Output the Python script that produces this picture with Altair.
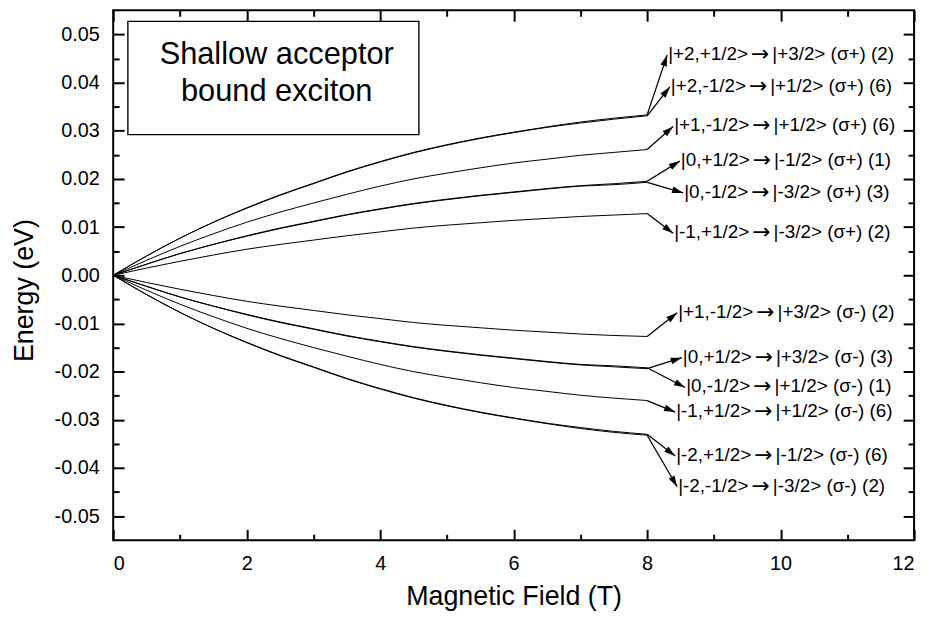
import math
import altair as alt
import pandas as pd

# ---------------- data ----------------
field_T = [0, 0.5, 1, 1.5, 2, 2.5, 3, 3.5, 4, 4.5, 5, 5.5, 6, 6.5, 7, 7.5, 8]

# sigma+ branch (upper)
e_p2_p = [0, 0.0040, 0.0077, 0.0110, 0.0140, 0.0167, 0.0191, 0.0215, 0.0236, 0.0255, 0.0271, 0.0285, 0.0297, 0.0308, 0.0318, 0.0326, 0.0333]
e_p2_m = [0, 0.0040, 0.0077, 0.0110, 0.0139, 0.0166, 0.0190, 0.0214, 0.0235, 0.0254, 0.0270, 0.0284, 0.0296, 0.0307, 0.0316, 0.0324, 0.0331]
e_p1_m = [0, 0.0031, 0.0060, 0.0086, 0.0110, 0.0131, 0.0150, 0.0168, 0.0185, 0.0200, 0.0212, 0.0223, 0.0233, 0.0241, 0.0249, 0.0255, 0.0261]
e_00_p = [0, 0.0023, 0.0045, 0.0064, 0.0082, 0.0098, 0.0112, 0.0126, 0.0138, 0.0149, 0.0158, 0.0166, 0.0173, 0.0180, 0.0186, 0.0190, 0.0195]
e_00_m = [0, 0.0023, 0.0045, 0.0064, 0.0081, 0.0097, 0.0111, 0.0125, 0.0137, 0.0148, 0.0157, 0.0165, 0.0172, 0.0179, 0.0185, 0.0188, 0.0193]
e_m1_p = [0, 0.0015, 0.0029, 0.0042, 0.0054, 0.0064, 0.0073, 0.0082, 0.0090, 0.0098, 0.0104, 0.0109, 0.0114, 0.0118, 0.0122, 0.0125, 0.0128]
# sigma- branch (lower)
f_p1_m = [0, -0.0015, -0.0029, -0.0042, -0.0054, -0.0064, -0.0073, -0.0082, -0.0090, -0.0098, -0.0104, -0.0109, -0.0114, -0.0118, -0.0122, -0.0125, -0.0127]
f_00_p = [0, -0.0023, -0.0045, -0.0064, -0.0082, -0.0098, -0.0112, -0.0126, -0.0138, -0.0149, -0.0158, -0.0166, -0.0173, -0.0180, -0.0186, -0.0190, -0.0194]
f_00_m = [0, -0.0023, -0.0045, -0.0064, -0.0081, -0.0097, -0.0111, -0.0125, -0.0137, -0.0148, -0.0157, -0.0165, -0.0172, -0.0179, -0.0185, -0.0188, -0.0192]
f_m1_p = [0, -0.0031, -0.0060, -0.0086, -0.0110, -0.0131, -0.0150, -0.0168, -0.0185, -0.0200, -0.0212, -0.0223, -0.0233, -0.0241, -0.0249, -0.0255, -0.0260]
f_m2_p = [0, -0.0040, -0.0077, -0.0110, -0.0139, -0.0166, -0.0190, -0.0214, -0.0235, -0.0254, -0.0270, -0.0284, -0.0296, -0.0307, -0.0316, -0.0324, -0.0330]
f_m2_m = [0, -0.0040, -0.0077, -0.0110, -0.0140, -0.0167, -0.0191, -0.0215, -0.0236, -0.0255, -0.0271, -0.0285, -0.0297, -0.0308, -0.0318, -0.0326, -0.0332]

series_names = ["p2p", "p2m", "p1m", "00p", "00m", "m1p",
                "n_p1m", "n_00p", "n_00m", "n_m1p", "n_m2p", "n_m2m"]
series_vals = [e_p2_p, e_p2_m, e_p1_m, e_00_p, e_00_m, e_m1_p,
               f_p1_m, f_00_p, f_00_m, f_m1_p, f_m2_p, f_m2_m]

# transition labels: initial state | arrow | final state (polarisation) (strength)
label_from = ["|+2,+1/2>", "|+2,-1/2>", "|+1,-1/2>", "|0,+1/2>", "|0,-1/2>", "|-1,+1/2>",
              "|+1,-1/2>", "|0,+1/2>", "|0,-1/2>", "|-1,+1/2>", "|-2,+1/2>", "|-2,-1/2>"]
label_to = ["|+3/2> (\u03c3+) (2)", "|+1/2> (\u03c3+) (6)", "|+1/2> (\u03c3+) (6)",
            "|-1/2> (\u03c3+) (1)", "|-3/2> (\u03c3+) (3)", "|-3/2> (\u03c3+) (2)",
            "|+3/2> (\u03c3-) (2)", "|+3/2> (\u03c3-) (3)", "|+1/2> (\u03c3-) (1)",
            "|+1/2> (\u03c3-) (6)", "|-1/2> (\u03c3-) (6)", "|-3/2> (\u03c3-) (2)"]
arrow_glyph = "\u2192"
# arrow tip (label anchor) positions in data units
tip_field = [8.30, 8.34, 8.39, 8.49, 8.54, 8.39, 8.45, 8.52, 8.57, 8.42, 8.42, 8.45]
tip_energy = [0.0457, 0.0391, 0.0309, 0.0237, 0.0171, 0.0087,
              -0.0078, -0.0171, -0.0233, -0.0284, -0.0375, -0.0439]

box_title = ["Shallow acceptor", "bound exciton"]
box_title_field = [2.45, 2.45]
box_title_energy = [0.0439, 0.0361]
box_field = [0.22, 4.58]
box_energy = [0.0292, 0.0527]

x_major = [0, 2, 4, 6, 8, 10, 12]
x_minor = [1, 3, 5, 7, 9, 11]
y_major = [-0.05, -0.04, -0.03, -0.02, -0.01, 0.0, 0.01, 0.02, 0.03, 0.04, 0.05]
y_minor = [-0.045, -0.035, -0.025, -0.015, -0.005, 0.005, 0.015, 0.025, 0.035, 0.045]

# ---------------- layout ----------------
W, H = 807, 534
XDOM = [0, 12]
YDOM = [-0.055, 0.055]
FONT = "Liberation Sans"
LAB_FS = 19
ARROW_FS = 22

# Arial / Liberation Sans advance widths (em) for the label characters
ADV = {"|": 0.26, "+": 0.584, "-": 0.333, ",": 0.278, "/": 0.278, ">": 0.584,
       "(": 0.333, ")": 0.333, " ": 0.278, "\u03c3": 0.617}


def text_w(s, fs):
    return sum(ADV.get(c, 0.556) for c in s) * fs


rows = []
for name, vals in zip(series_names, series_vals):
    for x, v in zip(field_T, vals):
        rows.append({"field": x, "energy": v, "series": name})
curves = pd.DataFrame(rows)

px_x = W / (XDOM[1] - XDOM[0])
px_y = H / (YDOM[1] - YDOM[0])
arr_rows = []
for vals, la, lb, tx, ty in zip(series_vals, label_from, label_to, tip_field, tip_energy):
    sx, sy = field_T[-1], vals[-1]
    ang = math.degrees(math.atan2(-(ty - sy) * px_y, (tx - sx) * px_x)) % 360
    wa = text_w(la, LAB_FS)
    x_a = tx + 1.0 / px_x
    x_arr = tx + (1.0 + wa + 3.0) / px_x
    x_b = tx + (1.0 + wa + 3.0 + 0.838 * ARROW_FS + 3.0) / px_x
    arr_rows.append({"sx": sx, "sy": sy, "tx": tx, "ty": ty, "ang": ang,
                     "xa": x_a, "xarr": x_arr, "xb": x_b,
                     "la": la, "lb": lb, "arrow": arrow_glyph})
arrows = pd.DataFrame(arr_rows)

box_df = pd.DataFrame({"x1": [box_field[0]], "x2": [box_field[1]],
                       "y1": [box_energy[0]], "y2": [box_energy[1]]})
box_txt = pd.DataFrame({"x": box_title_field, "y": box_title_energy, "t": box_title})

xs = alt.Scale(domain=XDOM, nice=False, zero=False)
ys = alt.Scale(domain=YDOM, nice=False, zero=False)

x_lab_axis = alt.Axis(orient="bottom", values=x_major, ticks=False, tickSize=0, domain=False,
                      labelPadding=13, labelFontSize=20, labelFont=FONT, labelColor="black",
                      title="Magnetic Field (T)", titleFontSize=27, titleFont=FONT,
                      titleFontWeight="normal", titleColor="black", titleY=57,
                      titleBaseline="middle", grid=False)
y_lab_axis = alt.Axis(orient="left", values=y_major, ticks=False, tickSize=0, domain=False,
                      labelPadding=14, labelFontSize=20, labelFont=FONT, labelColor="black",
                      labelExpr="datum.value < -1e-9 ? '-' + format(-datum.value, '.2f') : format(abs(datum.value), '.2f')",
                      title="Energy (eV)", titleFontSize=27, titleFont=FONT,
                      titleFontWeight="normal", titleColor="black", titleAngle=270,
                      titleX=-89, titleY=282, titleBaseline="middle", grid=False)

lines = alt.Chart(curves).mark_line(color="black", strokeWidth=1, interpolate="monotone").encode(
    x=alt.X("field:Q", scale=xs, axis=x_lab_axis),
    y=alt.Y("energy:Q", scale=ys, axis=y_lab_axis),
    detail="series:N",
)


def tick_axis(orient, vals, size):
    off = -H if orient in ("top", "bottom") else -W
    return alt.Axis(orient=orient, offset=off, values=vals, labels=False, domain=False,
                    ticks=True, tickSize=size, tickWidth=2, tickColor="black",
                    title=None, grid=False)


def tick_layer(xo, yo, xv, yv, size):
    return alt.Chart(curves).mark_point(opacity=0).encode(
        x=alt.X("field:Q", scale=xs, axis=tick_axis(xo, xv, size)),
        y=alt.Y("energy:Q", scale=ys, axis=tick_axis(yo, yv, size)),
    )


t1 = tick_layer("top", "right", x_major, y_major, 11)
t2 = tick_layer("bottom", "left", x_major, y_major, 11)
t3 = tick_layer("top", "right", x_minor, y_minor, 6)
t4 = tick_layer("bottom", "left", x_minor, y_minor, 6)

box = alt.Chart(box_df).mark_rect(fill="white", stroke="black", strokeWidth=1.4).encode(
    x=alt.X("x1:Q", scale=xs, axis=None), x2="x2:Q",
    y=alt.Y("y1:Q", scale=ys, axis=None), y2="y2:Q",
)
box_text = alt.Chart(box_txt).mark_text(font=FONT, fontSize=31, align="center",
                                        baseline="alphabetic", color="black").encode(
    x=alt.X("x:Q", scale=xs, axis=None),
    y=alt.Y("y:Q", scale=ys, axis=None),
    text="t:N",
)

rules = alt.Chart(arrows).mark_rule(color="black", strokeWidth=1.3).encode(
    x=alt.X("sx:Q", scale=xs, axis=None), x2="tx:Q",
    y=alt.Y("sy:Q", scale=ys, axis=None), y2="ty:Q",
)
heads = alt.Chart(arrows).mark_point(shape="M0,0L-1,-0.3L-1,0.3Z", filled=True, color="black",
                                     opacity=1, size=500, strokeWidth=0).encode(
    x=alt.X("tx:Q", scale=xs, axis=None),
    y=alt.Y("ty:Q", scale=ys, axis=None),
    angle=alt.Angle("ang:Q", scale=None),
)
text_a = alt.Chart(arrows).mark_text(font=FONT, fontSize=LAB_FS, align="left", baseline="middle",
                                     dy=-1, color="black").encode(
    x=alt.X("xa:Q", scale=xs, axis=None),
    y=alt.Y("ty:Q", scale=ys, axis=None),
    text="la:N",
)
text_arrow = alt.Chart(arrows).mark_text(font="DejaVu Sans", fontSize=ARROW_FS, align="left",
                                         baseline="middle", dy=-1, color="black").encode(
    x=alt.X("xarr:Q", scale=xs, axis=None),
    y=alt.Y("ty:Q", scale=ys, axis=None),
    text="arrow:N",
)
text_b = alt.Chart(arrows).mark_text(font=FONT, fontSize=LAB_FS, align="left", baseline="middle",
                                     dy=-1, color="black").encode(
    x=alt.X("xb:Q", scale=xs, axis=None),
    y=alt.Y("ty:Q", scale=ys, axis=None),
    text="lb:N",
)

chart = alt.layer(
    lines, box, box_text, rules, heads, text_a, text_arrow, text_b, t1, t2, t3, t4
).resolve_axis(x="independent", y="independent").properties(
    width=W, height=H,
    autosize=alt.AutoSizeParams(type="none"),
    padding={"left": 106, "top": 0, "right": 12, "bottom": 71},
).configure_view(stroke="black", strokeWidth=2).configure_axis(grid=False)

chart.save("out.html", embed_options={"renderer": "svg", "actions": False})
